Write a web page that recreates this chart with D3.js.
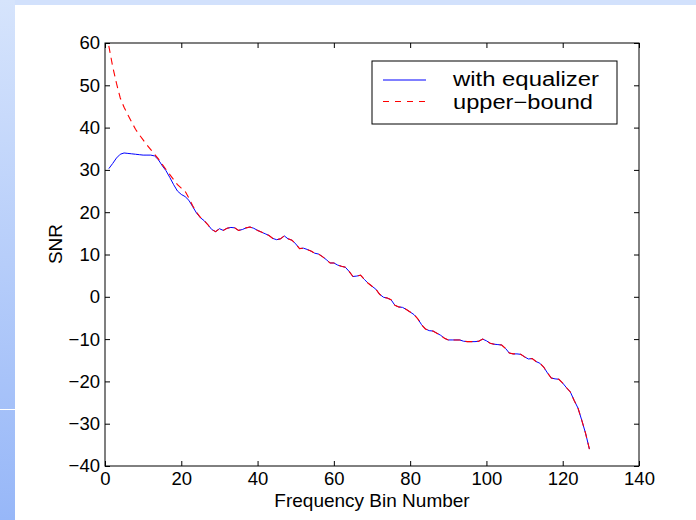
<!DOCTYPE html>
<html>
<head>
<meta charset="utf-8">
<script src="https://cdn.jsdelivr.net/npm/d3@7"></script>
<style>
  html, body { margin: 0; padding: 0; background: #fff; }
  svg { display: block; font-family: 'Liberation Sans', Arial, sans-serif; }
</style>
</head>
<body>
<div id="chart"></div>
<script>
/*global d3*/

// SNR per frequency bin (bins 1..127)
var withEqualizer = [
  30.3, 31.5, 32.8, 33.7, 34.0, 33.9, 33.8, 33.7, 33.6, 33.5,
  33.5, 33.5, 33.3, 32.4, 31.0, 29.8, 28.2, 26.5, 25.0, 24.2,
  23.7, 22.8, 21.3, 19.8, 18.7, 18.0, 17.0, 15.9, 15.4, 16.1,
  15.7, 16.2, 16.4, 16.3, 15.7, 15.9, 16.3, 16.5, 16.2, 15.7,
  15.3, 14.9, 14.5, 13.8, 13.5, 13.7, 14.4, 13.7, 13.4, 12.5,
  11.4, 11.5, 11.2, 10.8, 10.3, 10.1, 9.5, 8.8, 8.0, 8.0,
  7.5, 7.2, 7.0, 6.0, 4.8, 4.9, 5.1, 4.1, 3.2, 2.5,
  1.8, 0.6, -0.1, -0.3, -0.7, -2.0, -2.4, -2.5, -3.0, -3.6,
  -4.2, -5.2, -6.6, -7.6, -8.0, -8.1, -8.6, -9.1, -9.8, -10.2,
  -10.2, -10.2, -10.2, -10.5, -10.6, -10.6, -10.6, -10.5, -10.0, -10.4,
  -11.0, -11.2, -11.3, -11.4, -12.2, -13.3, -13.5, -13.5, -13.6, -14.2,
  -14.7, -14.6, -15.3, -15.7, -16.6, -18.0, -19.2, -19.4, -19.5, -20.4,
  -21.5, -22.5, -24.5, -26.3, -29.2, -32.3, -36.0
];

var upperBound = [
  59.3, 54.5, 50.5, 47.0, 44.8, 43.0, 41.3, 39.6, 38.3, 37.1,
  35.9, 34.8, 33.7, 32.6, 31.3, 30.1, 28.9, 27.7, 26.5, 25.7,
  25.0, 23.3, 21.5, 20.0, 18.8, 18.0, 17.0, 15.9, 15.4, 16.1,
  15.7, 16.2, 16.4, 16.3, 15.7, 15.9, 16.3, 16.5, 16.2, 15.7,
  15.3, 14.9, 14.5, 13.8, 13.5, 13.7, 14.4, 13.7, 13.4, 12.5,
  11.4, 11.5, 11.2, 10.8, 10.3, 10.1, 9.5, 8.8, 8.0, 8.0,
  7.5, 7.2, 7.0, 6.0, 4.8, 4.9, 5.1, 4.1, 3.2, 2.5,
  1.8, 0.6, -0.1, -0.3, -0.7, -2.0, -2.4, -2.5, -3.0, -3.6,
  -4.2, -5.2, -6.6, -7.6, -8.0, -8.1, -8.6, -9.1, -9.8, -10.2,
  -10.2, -10.2, -10.2, -10.5, -10.6, -10.6, -10.6, -10.5, -10.0, -10.4,
  -11.0, -11.2, -11.3, -11.4, -12.2, -13.3, -13.5, -13.5, -13.6, -14.2,
  -14.7, -14.6, -15.3, -15.7, -16.6, -18.0, -19.2, -19.4, -19.5, -20.4,
  -21.5, -22.5, -24.5, -26.3, -29.2, -32.3, -36.0
];

var xTicks = [0, 20, 40, 60, 80, 100, 120, 140];
var yTicks = [-40, -30, -20, -10, 0, 10, 20, 30, 40, 50, 60];
var seriesNames = ['with equalizer', 'upper\u2212bound'];

(function() {
  'use strict';

  var width = 696, height = 520;
  var margin = {top: 43, right: 57, bottom: 54, left: 105};
  var w = width - margin.left - margin.right;
  var h = height - margin.top - margin.bottom;

  var svg = d3.select('#chart').append('svg')
    .attr('width', width)
    .attr('height', height);

  // slide background: pale blue band on top and a gradient strip on the left
  var grad = svg.append('defs').append('linearGradient')
    .attr('id', 'strip')
    .attr('x1', 0).attr('y1', 0).attr('x2', 0).attr('y2', 1);
  grad.append('stop').attr('offset', '0%').attr('stop-color', '#d6e4fc');
  grad.append('stop').attr('offset', '100%').attr('stop-color', '#97b7f8');

  svg.append('rect').attr('x', 0).attr('y', 0).attr('width', width).attr('height', 5)
    .attr('fill', '#d2e1fc');
  svg.append('rect').attr('x', 0).attr('y', 0).attr('width', 15).attr('height', height)
    .attr('fill', 'url(#strip)');
  svg.append('line').attr('x1', 0).attr('x2', 15).attr('y1', 409.5).attr('y2', 409.5)
    .attr('stroke', '#fff').attr('stroke-width', 1);

  var g = svg.append('g')
    .attr('transform', 'translate(' + margin.left + ',' + margin.top + ')');

  var x = d3.scaleLinear().domain([0, 140]).range([0, w]);
  var y = d3.scaleLinear().domain([-40, 60]).range([h, 0]);

  var tickFont = function(sel) {
    sel.selectAll('text')
      .attr('fill', '#000')
      .style('font-size', '18.5px');
    sel.select('.domain').remove();
    sel.selectAll('.tick line').attr('stroke', '#000');
  };

  g.append('g')
    .attr('transform', 'translate(0,' + h + ')')
    .call(d3.axisBottom(x).tickValues(xTicks).tickSizeInner(-5).tickSizeOuter(0).tickPadding(6))
    .call(tickFont)
    .selectAll('text').attr('dy', '0.71em');

  g.append('g')
    .call(d3.axisTop(x).tickValues(xTicks).tickSizeInner(-5).tickSizeOuter(0).tickFormat(''))
    .call(tickFont);

  g.append('g')
    .call(d3.axisLeft(y).tickValues(yTicks).tickSizeInner(-5).tickSizeOuter(0).tickPadding(5))
    .call(tickFont);

  g.append('g')
    .attr('transform', 'translate(' + w + ',0)')
    .call(d3.axisRight(y).tickValues(yTicks).tickSizeInner(-5).tickSizeOuter(0).tickFormat(''))
    .call(tickFont);

  var line = d3.line()
    .x(function(d, i) { return x(i + 1); })
    .y(function(d) { return y(d); });

  g.append('path')
    .datum(withEqualizer)
    .attr('fill', 'none')
    .attr('stroke', '#0000ff')
    .attr('stroke-width', 1)
    .attr('d', line);

  g.append('path')
    .datum(upperBound)
    .attr('fill', 'none')
    .attr('stroke', '#ff0000')
    .attr('stroke-width', 1.1)
    .attr('stroke-dasharray', '7,5')
    .attr('d', line);

  // frame
  g.append('rect')
    .attr('width', w).attr('height', h)
    .attr('fill', 'none')
    .attr('stroke', '#000')
    .attr('stroke-width', 1);

  // axis titles
  svg.append('text')
    .attr('x', margin.left + w / 2)
    .attr('y', 507)
    .attr('text-anchor', 'middle')
    .style('font-size', '19px')
    .text('Frequency Bin Number');

  svg.append('text')
    .attr('transform', 'translate(62,244) rotate(-90)')
    .attr('text-anchor', 'middle')
    .style('font-size', '19px')
    .text('SNR');

  // legend
  var legend = svg.append('g');
  legend.append('rect')
    .attr('x', 372).attr('y', 61).attr('width', 245).attr('height', 63)
    .attr('fill', '#fff').attr('stroke', '#000').attr('stroke-width', 1);

  var styles = [
    {color: '#0000ff', dash: null, ly: 80, ty: 86, len: 146},
    {color: '#ff0000', dash: '6,6', ly: 101.5, ty: 108.5, len: 140}
  ];
  seriesNames.forEach(function(name, i) {
    legend.append('line')
      .attr('x1', 383).attr('x2', 426)
      .attr('y1', styles[i].ly).attr('y2', styles[i].ly)
      .attr('stroke', styles[i].color)
      .attr('stroke-width', 1)
      .attr('stroke-dasharray', styles[i].dash);
    legend.append('text')
      .attr('x', 453).attr('y', styles[i].ty)
      .attr('textLength', styles[i].len)
      .attr('lengthAdjust', 'spacingAndGlyphs')
      .style('font-size', '20px')
      .text(name);
  });
})();
</script>
</body>
</html>
